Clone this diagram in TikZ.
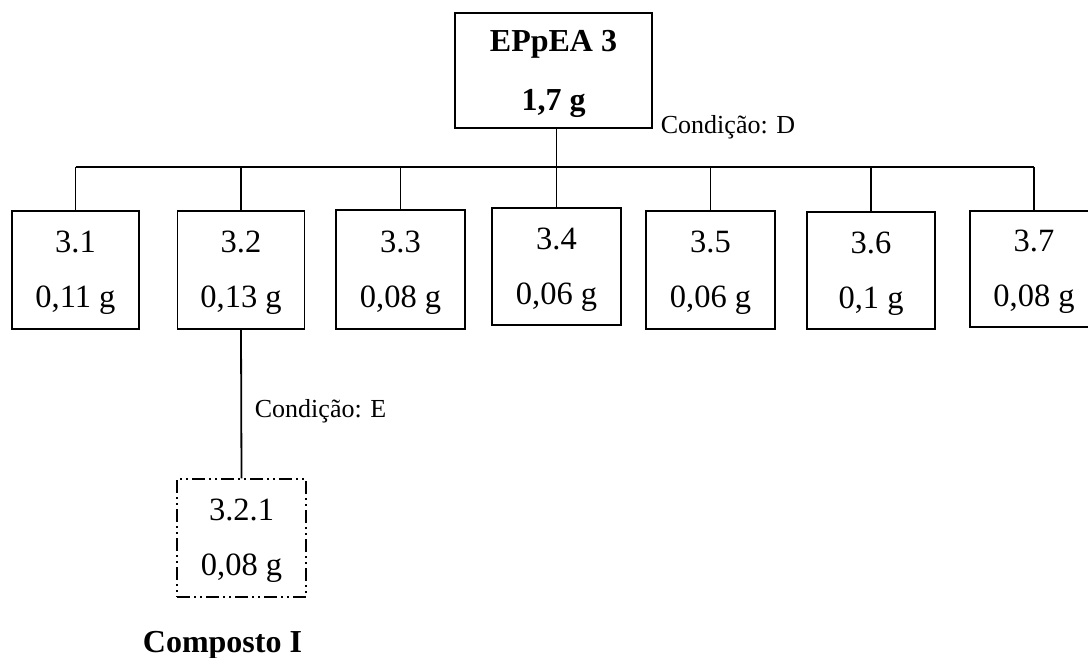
\documentclass[tikz,border=0pt]{standalone}
\usepackage{fontspec}
\setmainfont{Liberation Serif}
\begin{document}
\begin{tikzpicture}[x=1pt,y=-1pt,
  line width=1.8pt,
  box/.style={draw, line width=1.8pt, minimum width=127pt, minimum height=118pt, inner sep=0pt,
    align=center, text depth=1pt, font=\fontsize{32.5}{55}\selectfont},
  topbox/.style={draw, line width=1.8pt, minimum width=197pt, minimum height=115pt, inner sep=0pt,
    align=center, text depth=-2pt, font=\fontsize{32}{59}\selectfont\bfseries},
  dashbox/.style={box, line width=1.5pt,
    dash pattern=on 13pt off 4pt on 2pt off 4pt on 2pt off 4pt},
  cond/.style={font=\fontsize{26}{30}\selectfont, inner sep=0pt, anchor=base west},
  conn/.style={line width=1.8pt}]
\useasboundingbox (0,0) rectangle (1088,657);
\clip (0,0) rectangle (1088,657);
\fill[white] (0,0) rectangle (1088,657);

\node[topbox] (top) at (553.5,70.5) {EPpEA 3\\1,7 g};

\node[box] (b31) at (75.5,270) {3.1\\0,11 g};
\node[box] (b32) at (241,270) {3.2\\0,13 g};
\node[box, minimum width=129pt, minimum height=119pt] (b33) at (400.5,269.5) {3.3\\0,08 g};
\node[box, minimum width=129pt, minimum height=117pt] (b34) at (556.5,266.5) {3.4\\0,06 g};
\node[box, minimum width=129pt] (b35) at (710.5,270) {3.5\\0,06 g};
\node[box, minimum width=128pt, minimum height=117pt] (b36) at (871,270.5) {3.6\\0,1 g};
\node[box, minimum width=128pt, minimum height=116pt] (b37) at (1034,269) {3.7\\0,08 g};

\node[dashbox, minimum width=129pt] (b321) at (241.5,538) {3.2.1\\0,08 g};

\coordinate (bar) at (0,167);

\draw[conn] (top.south -| b34.north) -- (b34.north);
\draw[conn] (b31.north |- bar) -- (b37.north |- bar);
\foreach \b in {b31,b32,b33,b35,b36,b37}
  \draw[conn] (\b.north |- bar) -- (\b.north);
\draw[conn] (b32.south) -- (b321.north);

\node[cond] (cd) at (660,133) {Condição: D};
\node[cond] (ce) at (254,417) {Condição: E};
\node[font=\fontsize{32}{36}\selectfont\bfseries, inner sep=0pt, anchor=base] (comp) at (222.5,652) {Composto I};
\end{tikzpicture}
\end{document}
